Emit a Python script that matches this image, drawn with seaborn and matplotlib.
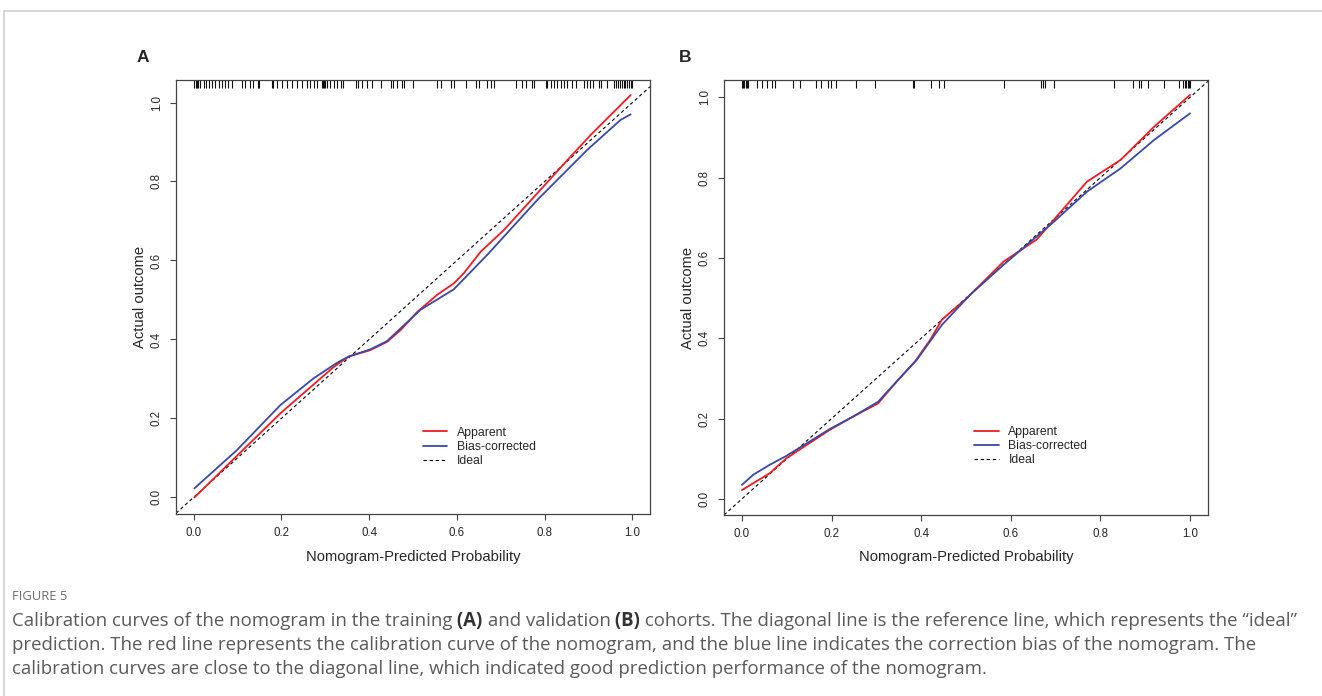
import matplotlib as mpl
import matplotlib.pyplot as plt
import seaborn as sns
import pandas as pd
from matplotlib.lines import Line2D

mpl.use('agg')

'''Calibration curves of the nomogram, training (A) and validation (B) cohorts'''

# Panel A - training cohort
a_app_x = [0.002, 0.198, 0.319, 0.354, 0.403, 0.441, 0.472, 0.510, 0.555, 0.593,
           0.616, 0.654, 0.707, 0.783, 0.859, 0.905, 0.996]
a_app_y = [0.000, 0.213, 0.330, 0.357, 0.373, 0.394, 0.424, 0.470, 0.513, 0.542,
           0.568, 0.622, 0.677, 0.770, 0.863, 0.918, 1.019]
a_bc_x = [0.002, 0.099, 0.198, 0.274, 0.327, 0.354, 0.403, 0.441, 0.464, 0.517,
          0.593, 0.669, 0.783, 0.897, 0.973, 0.996]
a_bc_y = [0.023, 0.120, 0.234, 0.302, 0.341, 0.357, 0.375, 0.396, 0.420, 0.475,
          0.527, 0.614, 0.753, 0.880, 0.956, 0.970]
a_rug = [0.002, 0.005, 0.008, 0.011, 0.014, 0.023, 0.029, 0.036, 0.043, 0.049,
         0.057, 0.065, 0.072, 0.078, 0.087, 0.110, 0.118, 0.128, 0.135, 0.146,
         0.149, 0.179, 0.181, 0.190, 0.202, 0.213, 0.224, 0.236, 0.247, 0.259,
         0.266, 0.274, 0.281, 0.293, 0.295, 0.298, 0.300, 0.304, 0.310, 0.319,
         0.327, 0.335, 0.341, 0.371, 0.374, 0.384, 0.395, 0.407, 0.426, 0.449,
         0.455, 0.464, 0.475, 0.479, 0.500, 0.555, 0.563, 0.586, 0.593, 0.620,
         0.643, 0.650, 0.669, 0.677, 0.684, 0.734, 0.749, 0.757, 0.772, 0.776,
         0.802, 0.806, 0.814, 0.821, 0.829, 0.837, 0.844, 0.852, 0.863, 0.871,
         0.890, 0.896, 0.903, 0.909, 0.924, 0.928, 0.943, 0.958, 0.963, 0.968,
         0.972, 0.976, 0.980, 0.984, 0.988, 0.992, 0.996, 0.999]

# Panel B - validation cohort
b_app_x = [0.000, 0.062, 0.099, 0.196, 0.248, 0.304, 0.345, 0.386, 0.420, 0.446,
           0.502, 0.584, 0.658, 0.696, 0.770, 0.845, 0.920, 1.000]
b_app_y = [0.022, 0.064, 0.101, 0.172, 0.205, 0.238, 0.292, 0.342, 0.396, 0.446,
           0.500, 0.591, 0.646, 0.695, 0.790, 0.844, 0.927, 1.006]
b_bc_x = [0.000, 0.025, 0.062, 0.099, 0.196, 0.248, 0.304, 0.345, 0.390, 0.446,
          0.509, 0.584, 0.696, 0.770, 0.845, 0.920, 1.000]
b_bc_y = [0.035, 0.060, 0.085, 0.107, 0.174, 0.205, 0.242, 0.292, 0.346, 0.433,
          0.508, 0.583, 0.690, 0.765, 0.823, 0.894, 0.960]
b_rug = [0.001, 0.003, 0.005, 0.008, 0.011, 0.014, 0.034, 0.045, 0.057, 0.066,
         0.073, 0.113, 0.129, 0.166, 0.177, 0.192, 0.198, 0.211, 0.254, 0.298,
         0.381, 0.384, 0.422, 0.440, 0.451, 0.585, 0.667, 0.671, 0.677, 0.697,
         0.831, 0.872, 0.887, 0.891, 0.907, 0.942, 0.976, 0.985, 0.989, 0.992,
         0.995, 0.998, 1.000]

ideal_x = [0.0, 1.0]
ideal_y = [0.0, 1.0]

tick_vals = [0.0, 0.2, 0.4, 0.6, 0.8, 1.0]
tick_labels = ['0.0', '0.2', '0.4', '0.6', '0.8', '1.0']

curve_names = ['Apparent', 'Bias-corrected', 'Ideal']
curve_colors = {'Apparent': '#ee1c24', 'Bias-corrected': '#3a48a8'}

sns.set_style('white')
plt.rcParams['font.family'] = ['Liberation Sans', 'DejaVu Sans']

W, H = 1322, 696
fig = plt.figure(figsize=(W / 100, H / 100), dpi=100)


def px_axes(left, top, right, bottom):
    return fig.add_axes([left / W, 1 - bottom / H, (right - left) / W, (bottom - top) / H])


def draw_panel(ax, app_x, app_y, bc_x, bc_y, rug, ylim, leg_anchor):
    df = pd.concat([
        pd.DataFrame({'x': app_x, 'y': app_y, 'curve': 'Apparent'}),
        pd.DataFrame({'x': bc_x, 'y': bc_y, 'curve': 'Bias-corrected'}),
    ])
    ax.axline((ideal_x[0], ideal_y[0]), (ideal_x[1], ideal_y[1]),
              color='black', lw=0.8, dashes=(3, 2.5))
    sns.lineplot(data=df, x='x', y='y', hue='curve', palette=curve_colors,
                 sort=False, estimator=None, lw=1.3, legend=False, ax=ax)
    # rug of predicted probabilities along the top
    ax.vlines(rug, 1 - 0.019, 1, transform=ax.get_xaxis_transform(),
              color='#111111', lw=0.8)

    ax.set_xlim(-0.04, 1.04)
    ax.set_ylim(*ylim)
    ax.set_xticks(tick_vals)
    ax.set_xticklabels(tick_labels)
    ax.set_yticks(tick_vals)
    ax.set_yticklabels(tick_labels, rotation=90, va='center')
    ax.tick_params(axis='both', direction='out', length=4.5, width=0.8,
                   color='#444444', labelsize=8.3, pad=5, left=True, bottom=True)
    for sp in ax.spines.values():
        sp.set_color('#444444')
        sp.set_linewidth(0.9)

    ax.set_xlabel('Nomogram-Predicted Probability', fontsize=10.6)
    ax.set_ylabel('Actual outcome', fontsize=10.6)
    ax.xaxis.label.set_va('center')
    ax.yaxis.label.set_va('center')

    handles = [
        Line2D([], [], color=curve_colors['Apparent'], lw=1.3),
        Line2D([], [], color=curve_colors['Bias-corrected'], lw=1.3),
        Line2D([], [], color='black', lw=0.8, dashes=(3, 2.5)),
    ]
    ax.legend(handles, curve_names, loc='upper left', bbox_to_anchor=leg_anchor,
              frameon=False, fontsize=8.8, handlelength=2.0, handletextpad=0.8,
              labelspacing=0.18, borderpad=0, borderaxespad=0)


ax_a = px_axes(176, 80, 650, 514)
draw_panel(ax_a, a_app_x, a_app_y, a_bc_x, a_bc_y, a_rug, (-0.042, 1.057), (0.521, 0.201))
ax_a.xaxis.set_label_coords(0.5, (514 - 557) / 434)
ax_a.yaxis.set_label_coords((140 - 176) / 474, 0.5)

ax_b = px_axes(724, 80, 1208, 515)
draw_panel(ax_b, b_app_x, b_app_y, b_bc_x, b_bc_y, b_rug, (-0.040, 1.043), (0.517, 0.205))
ax_b.xaxis.set_label_coords(0.5, (515 - 557) / 435)
ax_b.yaxis.set_label_coords((688 - 724) / 484, 0.5)

fig.text(143 / W, 1 - 57 / H, 'A', fontsize=12.5, fontweight='bold', ha='center', va='center')
fig.text(685 / W, 1 - 57 / H, 'B', fontsize=12.5, fontweight='bold', ha='center', va='center')

# page frame lines
fig.add_artist(Line2D([4 / W, 1], [1 - 11 / H, 1 - 11 / H], color='#d0d0d0', lw=1.2))
fig.add_artist(Line2D([4 / W, 4 / W], [0, 1 - 11 / H], color='#d0d0d0', lw=1.2))

# caption
cap_font = ['Open Sans', 'DejaVu Sans']
fig.text(12 / W, 1 - 597 / H, 'FIGURE 5', fontsize=9.4, color='#6d6d6d',
         family=cap_font, va='center')

cap_lines = [
    [('Calibration curves of the nomogram in the training', False), (' (A)', True),
     (' and validation', False), (' (B)', True),
     (' cohorts. The diagonal line is the reference line, which represents the \u201cideal\u201d', False)],
    [('prediction. The red line represents the calibration curve of the nomogram, and the blue line '
      'indicates the correction bias of the nomogram. The', False)],
    [('calibration curves are close to the diagonal line, which indicated good prediction '
      'performance of the nomogram.', False)],
]
cap_baselines = [626, 650, 674]

renderer = fig.canvas.get_renderer()
for pieces, base in zip(cap_lines, cap_baselines):
    x = 12 / W
    for s, bold in pieces:
        t = fig.text(x, 1 - base / H, s, fontsize=13.4, family=cap_font,
                     color='#333333' if bold else '#5a5a5a',
                     fontweight='bold' if bold else 'normal', va='baseline')
        x = t.get_window_extent(renderer).x1 / W

fig.savefig('out.png', dpi=100)
